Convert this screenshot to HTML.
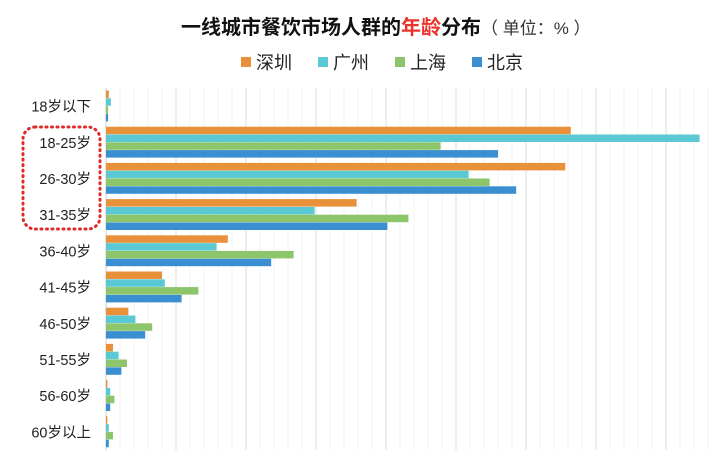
<!DOCTYPE html>
<html><head><meta charset="utf-8"><style>
body{margin:0;background:#fff;font-family:"Liberation Sans","Noto Sans CJK SC",sans-serif;}
svg text{font-family:"Liberation Sans","Noto Sans CJK SC",sans-serif;}
</style></head><body>
<svg id="c" width="720" height="457" xmlns="http://www.w3.org/2000/svg">
<text x="181" y="34" font-size="20" font-weight="bold" fill="#111">一线城市餐饮市场人群的<tspan fill="#e8342a">年龄</tspan>分布<tspan font-weight="normal" font-size="17" fill="#333">（ 单位：% ）</tspan></text>
<g id="legend"></g>
<g id="grid"></g>
<g id="bars"></g>
<g id="labels"></g>
<rect x="23" y="127" width="77" height="102" rx="12" fill="none" stroke="#e02a2a" stroke-width="3" stroke-dasharray="1 4.5" stroke-linecap="round"/>
</svg>
<script>
const categories=["18岁以下","18-25岁","26-30岁","31-35岁","36-40岁","41-45岁","46-50岁","51-55岁","56-60岁","60岁以上"];
const seriesNames=["深圳","广州","上海","北京"];
const shenzhen=[0.2,33.2,32.8,17.9,8.7,4.0,1.6,0.5,0.1,0.1];
const guangzhou=[0.35,42.4,25.9,14.9,7.9,4.2,2.1,0.9,0.3,0.2];
const shanghai=[0.15,23.9,27.4,21.6,13.4,6.6,3.3,1.5,0.6,0.5];
const beijing=[0.15,28.0,29.3,20.1,11.8,5.4,2.8,1.1,0.3,0.2];
const colors=["#e8913a","#5bc9d3","#8cc56a","#3a8fd0"];
const series=[shenzhen,guangzhou,shanghai,beijing];
const NS="http://www.w3.org/2000/svg";
const x0=106,pxPer=14,top0=90.5,groupH=36.2,barH=7.8;
const xs=v=>x0+v*pxPer;
function mk(tag,attrs,parent){const e=document.createElementNS(NS,tag);for(const k in attrs)e.setAttribute(k,attrs[k]);parent.appendChild(e);return e;}
const grid=document.getElementById('grid');
for(let v=1;v<=43;v++){
 const l=mk('line',{x1:xs(v),x2:xs(v),y1:88,y2:450,stroke:v%5==0?'#dedede':'#f3f3f3','stroke-width':1},grid);
 
 
}
const ax=mk('line',{x1:x0,x2:x0,y1:88,y2:450,stroke:'#cfcfcf'},grid);


const bars=document.getElementById('bars'),labels=document.getElementById('labels');
categories.forEach((c,i)=>{
 const gy=top0+i*groupH;
 series.forEach((s,j)=>{
  const r=mk('rect',{x:x0,y:gy+j*barH,width:Math.max(0,xs(s[i])-x0),height:barH-0.3,fill:colors[j]},bars);
  
  
 });
 const t=mk('text',{x:91,y:gy+barH*2+5.5,'font-size':14.5,'text-anchor':'end',fill:'#222'},labels);
 t.textContent=c;
 
 
});
const lg=document.getElementById('legend');
const lx=[241,318,395,472];
seriesNames.forEach((n,j)=>{
 const g=mk('g',{},lg);
 
 
 mk('rect',{x:lx[j],y:57,width:10,height:10,fill:colors[j]},g);
 const t=mk('text',{x:lx[j]+15,y:69,'font-size':18,fill:'#222'},g);
 t.textContent=n;
});
</script>
</body></html>
